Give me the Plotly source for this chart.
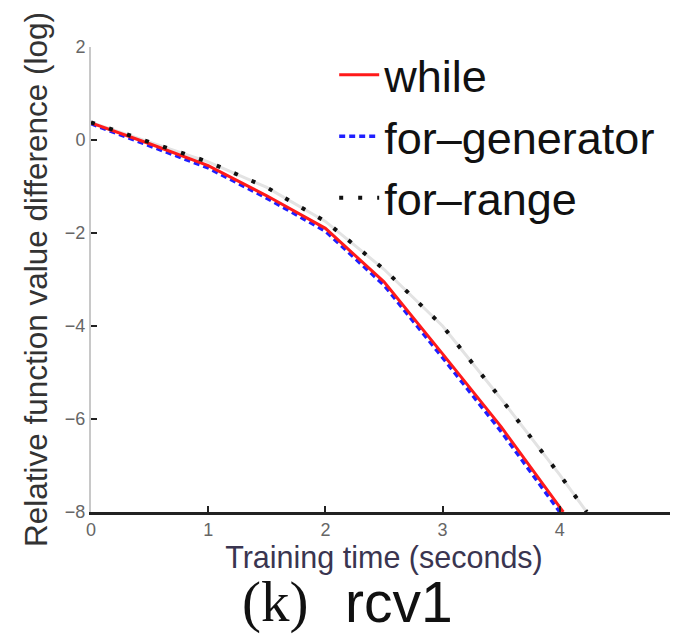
import plotly.graph_objects as go

# Training time (seconds)
while_t = [0, 0.5, 1.0, 1.5, 2.0, 2.5, 3.0, 3.5, 4.03]
while_v = [0.37, -0.08, -0.55, -1.2, -1.9, -3.05, -4.6, -6.17, -8.0]

gen_t = [0, 0.5, 1.0, 1.5, 2.0, 2.5, 3.0, 3.5, 4.0]
gen_v = [0.35, -0.12, -0.6, -1.25, -1.96, -3.12, -4.68, -6.27, -8.0]

range_t = [0, 0.5, 1.0, 1.5, 2.0, 2.5, 3.0, 3.5, 4.0, 4.23]
range_v = [0.38, -0.04, -0.47, -1.02, -1.75, -2.78, -4.0, -5.57, -7.2, -8.0]

x_ticks = [0, 1, 2, 3, 4, 5]
y_ticks = [-8, -6, -4, -2, 0, 2]

SANS = "Liberation Sans, Arial, sans-serif"
SERIF = "Liberation Serif, Times New Roman, serif"

fig = go.Figure()

# faint gray band under the dotted for-range line
fig.add_trace(go.Scatter(x=range_t, y=range_v, mode="lines",
                         line=dict(color="#e3e3e3", width=3),
                         showlegend=False, hoverinfo="skip"))
fig.add_trace(go.Scatter(x=gen_t, y=gen_v, mode="lines", name="for\u2013generator",
                         line=dict(color="#1f1fff", width=3.5, dash="6px,4px"),
                         legendrank=2))
fig.add_trace(go.Scatter(x=while_t, y=while_v, mode="lines", name="while",
                         line=dict(color="#ff1a1a", width=3),
                         legendrank=1))
fig.add_trace(go.Scatter(x=range_t, y=range_v, mode="lines", name="for\u2013range",
                         line=dict(color="#111111", width=4, dash="4px,15px"),
                         legendrank=3))

fig.update_layout(
    width=670, height=631,
    margin=dict(l=83, r=1, t=39, b=127, autoexpand=False),
    paper_bgcolor="white", plot_bgcolor="white",
    font=dict(family=SANS, color="#333"),
    showlegend=True,
    legend=dict(x=0.415, xanchor="left", y=1.017, yanchor="top",
                bgcolor="rgba(0,0,0,0)", font=dict(size=45, color="#111", family=SANS),
                itemwidth=40, tracegroupgap=0),
    xaxis=dict(range=[0, 5], tickvals=x_ticks, ticks="inside", ticklen=6,
               tickwidth=1.5, tickcolor="#222", showgrid=False, zeroline=False,
               showline=True, linecolor="#222", linewidth=2.5, automargin=False,
               tickfont=dict(size=18, color="#666"), ticklabeloverflow="allow",
               title=dict(text="Training time (seconds)", standoff=0,
                          font=dict(size=30.5, color="#3a3550"))),
    yaxis=dict(range=[-8, 2], tickvals=y_ticks, ticks="inside", ticklen=6,
               tickwidth=1.5, tickcolor="#222", showgrid=False, zeroline=False,
               showline=True, linecolor="#c8c8c8", linewidth=2, automargin=False,
               tickfont=dict(size=18, color="#666"),
               title=dict(text="Relative function value difference (log)", standoff=8,
                          font=dict(size=31.5, color="#333"))),
)

fig.add_annotation(text="(k)", x=0.374, xref="paper", y=-0.193, yref="paper",
                   xanchor="right", yanchor="middle", showarrow=False,
                   font=dict(family=SERIF, size=57, color="#111"))
fig.add_annotation(text="rcv1", x=0.43, xref="paper", y=-0.193, yref="paper",
                   xanchor="left", yanchor="middle", showarrow=False,
                   font=dict(family=SANS, size=57, color="#111"))

fig.write_html("out.html")
